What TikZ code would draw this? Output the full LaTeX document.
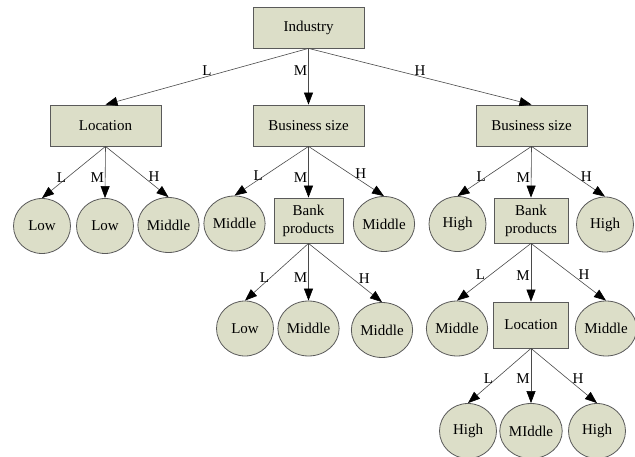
\documentclass[tikz,border=0pt]{standalone}
\usepackage{fontspec}
\setmainfont{Liberation Serif}
\usetikzlibrary{shapes.geometric,arrows.meta}
\definecolor{nodefill}{HTML}{DCDEC8}
\definecolor{nodeline}{HTML}{5A5A5A}
\definecolor{edgeline}{HTML}{4A4A4A}
\tikzset{
  every node/.style={font=\fontsize{15}{18}\selectfont},
  boxnode/.style={draw=nodeline, fill=nodefill, line width=0.8pt, rectangle, inner sep=0pt, align=center},
  leafnode/.style={draw=nodeline, fill=nodefill, line width=0.8pt, ellipse, inner sep=0pt, minimum width=57pt, minimum height=55pt},
  edge/.style={draw=edgeline, line width=0.6pt, -{Triangle[length=12pt,width=9pt,color=black]}},
  lab/.style={inner sep=1pt, fill=none, draw=none},
}
\begin{document}
\begin{tikzpicture}[x=1pt,y=-1pt]
\useasboundingbox (0,0) rectangle (635,457);
% boxes
\node[boxnode, minimum width=111pt, minimum height=41pt] (ind) at (308.5,27.5) {Industry};
\node[boxnode, minimum width=111pt, minimum height=41pt] (loc1) at (105.5,125.5) {Location};
\node[boxnode, minimum width=111pt, minimum height=41pt] (bs1) at (308.5,125.5) {Business size};
\node[boxnode, minimum width=111pt, minimum height=41pt] (bs2) at (531.5,125.5) {Business size};
\node[boxnode, minimum width=69pt, minimum height=45pt] (bp1) at (308.5,220.5) {Bank\\products};
\node[boxnode, minimum width=74pt, minimum height=45pt] (bp2) at (531,220.5) {Bank\\products};
\node[boxnode, minimum width=75pt, minimum height=46pt] (loc2) at (531,325) {Location};
% leaves row 2
\node[leafnode] (a1) at (42,226) {Low};
\node[leafnode] (a2) at (105,226) {Low};
\node[leafnode] (a3) at (168.5,225) {Middle};
\node[leafnode] (b1) at (234.5,223.5) {Middle};
\node[leafnode] (b3) at (384,224) {Middle};
\node[leafnode] (c1) at (457.5,224) {High};
\node[leafnode] (c3) at (605,224.5) {High};
% row 3
\node[leafnode] (d1) at (245,328.5) {Low};
\node[leafnode] (d2) at (308.5,328.5) {Middle};
\node[leafnode] (d3) at (382,330) {Middle};
\node[leafnode] (e1) at (457,328.5) {Middle};
\node[leafnode] (e3) at (606,328.5) {Middle};
% row 4
\node[leafnode] (f1) at (468,431) {High};
\node[leafnode] (f2) at (531,431) {MIddle};
\node[leafnode] (f3) at (597,431) {High};
% edges from Industry
\draw[edge] (ind.south) -- node[lab, pos=0.5, above] {L} (loc1.north);
\draw[edge] (ind.south) -- node[lab, pos=0.4, left] {M} (bs1.north);
\draw[edge] (ind.south) -- node[lab, pos=0.5, above] {H} (bs2.north);
% Location 1
\draw[edge] (loc1.south) -- node[lab, pos=0.6, left] {L} (a1.north);
\draw[edge] (loc1.south) -- node[lab, pos=0.6, left] {M} (a2.north);
\draw[edge] (loc1.south) -- node[lab, pos=0.6, right=4pt] {H} (a3.north);
% Business size 1
\draw[edge] (bs1.south) -- node[lab, pos=0.6, left] {L} (b1.north);
\draw[edge] (bs1.south) -- node[lab, pos=0.6, left] {M} (bp1.north);
\draw[edge] (bs1.south) -- node[lab, pos=0.55, right=4pt] {H} (b3.north);
% Business size 2
\draw[edge] (bs2.south) -- node[lab, pos=0.6, left] {L} (c1.north);
\draw[edge] (bs2.south) -- node[lab, pos=0.6, left] {M} (bp2.north);
\draw[edge] (bs2.south) -- node[lab, pos=0.6, right=4pt] {H} (c3.north);
% Bank products 1
\draw[edge] (bp1.south) -- node[lab, pos=0.6, left] {L} (d1.north);
\draw[edge] (bp1.south) -- node[lab, pos=0.6, left] {M} (d2.north);
\draw[edge] (bp1.south) -- node[lab, pos=0.6, right=5pt] {H} (d3.north);
% Bank products 2
\draw[edge] (bp2.south) -- node[lab, pos=0.55, left=4pt] {L} (e1.north);
\draw[edge] (bp2.south) -- node[lab, pos=0.55, left] {M} (loc2.north);
\draw[edge] (bp2.south) -- node[lab, pos=0.55, right=5pt] {H} (e3.north);
% Location 2
\draw[edge] (loc2.south) -- node[lab, pos=0.55, left=2pt] {L} (f1.north);
\draw[edge] (loc2.south) -- node[lab, pos=0.55, left] {M} (f2.north);
\draw[edge] (loc2.south) -- node[lab, pos=0.55, right=4pt] {H} (f3.north);
\end{tikzpicture}
\end{document}
